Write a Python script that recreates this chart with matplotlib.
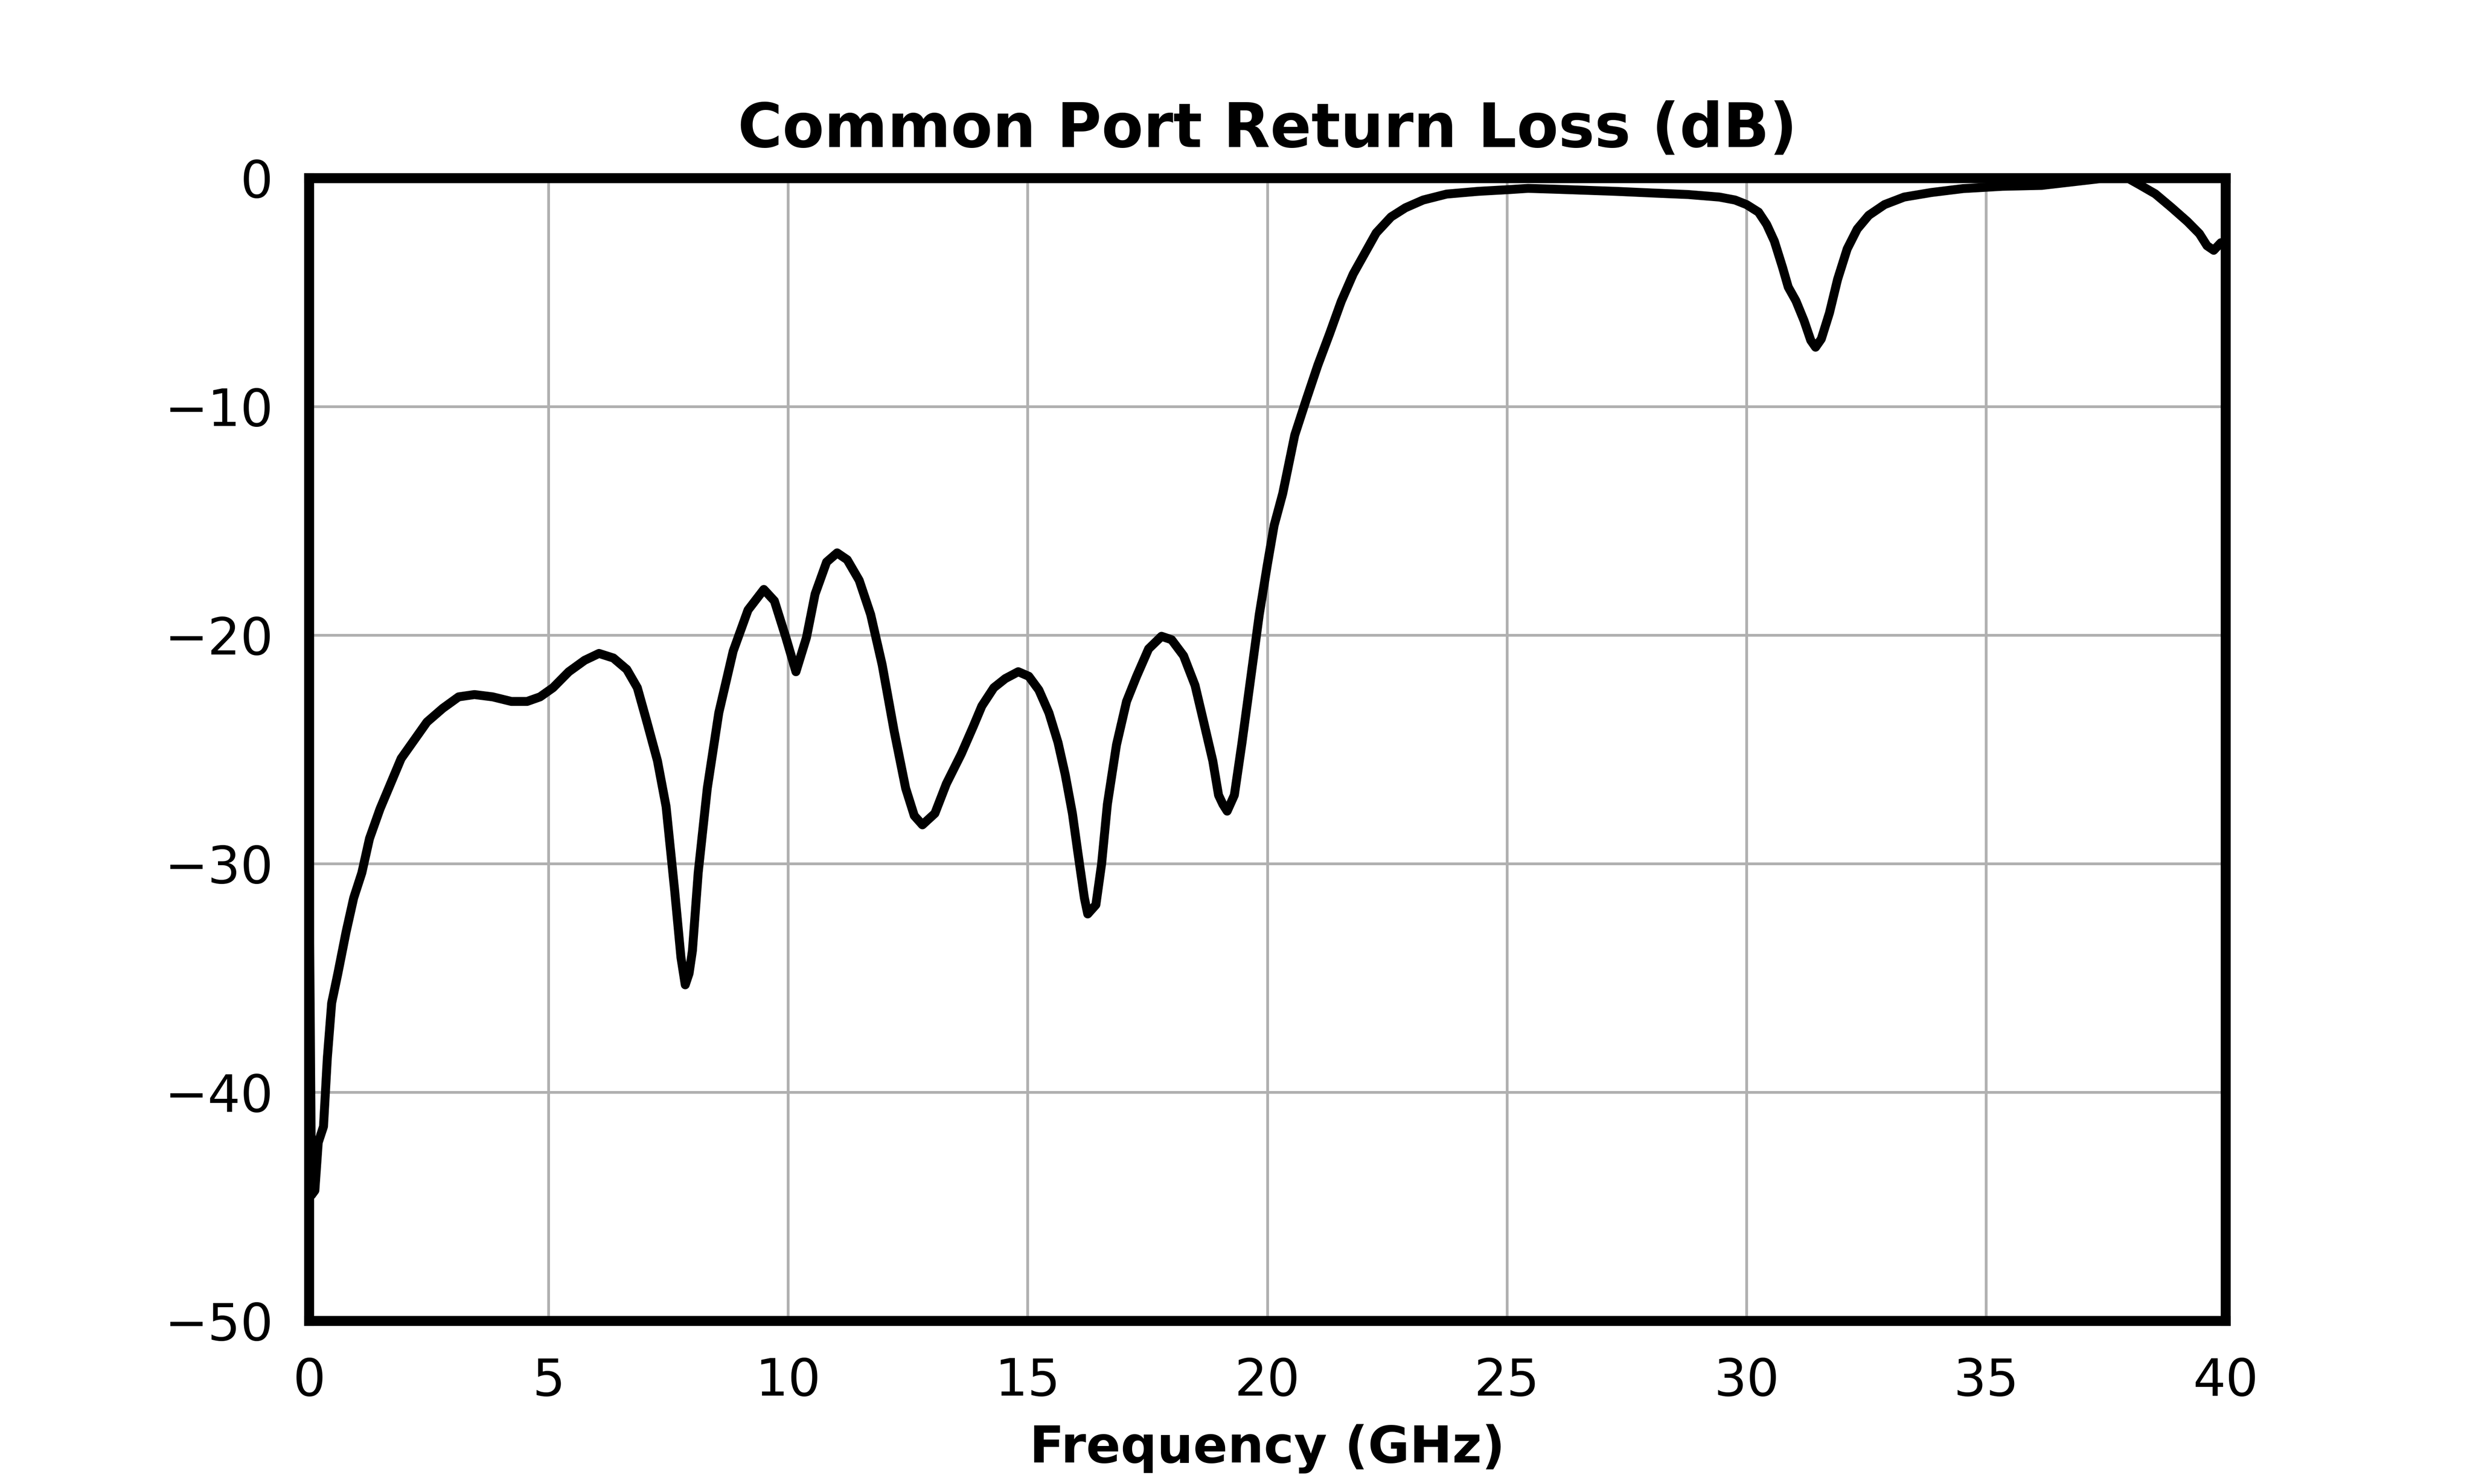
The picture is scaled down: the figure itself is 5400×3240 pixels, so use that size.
import matplotlib
matplotlib.use("Agg")
import matplotlib.pyplot as plt

# Frequency (GHz) and return loss (dB)
freq_ghz = [
    0.0, 0.05, 0.12, 0.19, 0.30, 0.38, 0.47, 0.60, 0.77, 0.93, 1.10, 1.26, 1.48, 1.70,
    1.92, 2.19, 2.46, 2.79, 3.12, 3.45, 3.83, 4.22, 4.55, 4.82, 5.09, 5.42, 5.75,
    6.05, 6.35, 6.63, 6.85, 7.05, 7.27, 7.45, 7.63, 7.76, 7.85, 7.93, 8.00, 8.12,
    8.31, 8.55, 8.85, 9.16, 9.49, 9.71, 9.95, 10.16, 10.38, 10.56, 10.80, 11.02,
    11.23, 11.48, 11.72, 11.96, 12.21, 12.45, 12.63, 12.80, 13.06, 13.30, 13.61,
    13.86, 14.04, 14.29, 14.53, 14.80, 15.02, 15.23, 15.44, 15.63, 15.78, 15.93,
    16.05, 16.18, 16.25, 16.42, 16.54, 16.66, 16.85, 17.06, 17.27, 17.52, 17.79,
    18.00, 18.25, 18.49, 18.67, 18.86, 18.98, 19.07, 19.16, 19.31, 19.47, 19.65,
    19.83, 20.00, 20.14, 20.32, 20.57, 20.81, 21.05, 21.30, 21.54, 21.79, 22.03,
    22.27, 22.58, 22.88, 23.25, 23.74, 24.40, 25.00, 25.44, 26.05, 27.27, 28.00,
    28.78, 29.43, 29.76, 30.00, 30.25, 30.42, 30.58, 30.75, 30.87, 31.03, 31.20,
    31.34, 31.44, 31.56, 31.73, 31.90, 32.10, 32.31, 32.55, 32.88, 33.29, 33.86,
    34.52, 35.34, 36.16, 36.82, 37.40, 37.97, 38.20, 38.53, 38.87, 39.20, 39.45,
    39.61, 39.75, 39.90, 40.00,
]
return_loss_db = [
    -30.0, -44.5, -44.3, -42.2, -41.5, -38.5, -36.1, -34.8, -33.0, -31.5, -30.4, -28.9, -27.6, -26.5,
    -25.4, -24.6, -23.8, -23.2, -22.7, -22.6, -22.7, -22.9, -22.9, -22.7, -22.3, -21.6, -21.1,
    -20.8, -21.0, -21.5, -22.3, -23.8, -25.5, -27.5, -31.2, -34.1, -35.3, -34.8, -33.8, -30.4,
    -26.7, -23.4, -20.7, -18.9, -18.0, -18.5, -20.1, -21.6, -20.1, -18.2, -16.8, -16.4,
    -16.7, -17.6, -19.1, -21.3, -24.2, -26.7, -27.9, -28.3, -27.8, -26.5, -25.2,
    -24.0, -23.1, -22.3, -21.9, -21.6, -21.8, -22.4, -23.4, -24.7, -26.1, -27.8,
    -29.6, -31.5, -32.2, -31.8, -30.0, -27.4, -24.8, -22.9, -21.8, -20.6, -20.05,
    -20.2, -20.9, -22.2, -23.8, -25.5, -27.0, -27.4, -27.7, -27.0, -24.7, -21.9,
    -19.1, -16.9, -15.2, -13.8, -11.25, -9.7, -8.2, -6.8, -5.4, -4.2, -3.3,
    -2.4, -1.7, -1.3, -0.96, -0.70, -0.58, -0.51, -0.45, -0.49, -0.58, -0.65,
    -0.72, -0.83, -0.96, -1.16, -1.49, -2.03, -2.76, -3.9, -4.77, -5.37, -6.24,
    -7.1, -7.4, -7.04, -5.9, -4.43, -3.1, -2.23, -1.63, -1.16, -0.83, -0.63,
    -0.46, -0.36, -0.32, -0.16, -0.02, -0.02, -0.29, -0.69, -1.29, -1.9, -2.43,
    -2.96, -3.16, -2.83, -2.8,
]

x_ticks = [0, 5, 10, 15, 20, 25, 30, 35, 40]
y_ticks = [-50, -40, -30, -20, -10, 0]

title_text = "Common Port Return Loss (dB)"
xlabel_text = "Frequency (GHz)"

fig, ax = plt.subplots(figsize=(10, 6), dpi=540)

ax.plot(freq_ghz, return_loss_db, color="black", linewidth=2.6,
        solid_joinstyle="round")

ax.set_xlim(0, 40)
ax.set_ylim(-50, 0)
ax.set_xticks(x_ticks)
ax.set_yticks(y_ticks)
ax.grid(True, color="#b0b0b0", linewidth=0.8)

for spine in ax.spines.values():
    spine.set_linewidth(2.9)
    spine.set_color("black")

ax.tick_params(axis="both", length=0, pad=10.5, labelsize=15)

ax.set_title(title_text, fontsize=17.7, fontweight="bold", pad=9)
ax.set_xlabel(xlabel_text, fontsize=14.8, fontweight="bold", labelpad=5.2)

fig.savefig("out.png", dpi=540)
